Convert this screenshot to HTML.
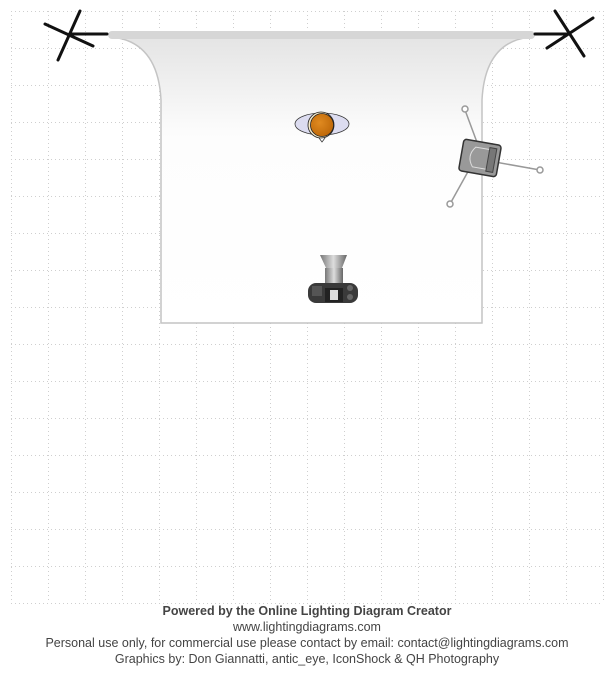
<!DOCTYPE html>
<html><head><style>
body{margin:0;width:614px;height:674px;background:#fff;overflow:hidden;font-family:"Liberation Sans",Arial,sans-serif}
.t{position:absolute;left:0;width:614px;text-align:center;font-size:12.5px;color:#444}
</style></head><body>
<svg width="614" height="674" style="position:absolute;left:0;top:0">
<defs>
<linearGradient id="bg" x1="0" y1="0" x2="0" y2="1"><stop offset="0" stop-color="#e4e4e4"/><stop offset="0.35" stop-color="#fdfdfd"/><stop offset="1" stop-color="#fff"/></linearGradient>
<linearGradient id="cam" x1="0" y1="0" x2="1" y2="0"><stop offset="0" stop-color="#777"/><stop offset="0.5" stop-color="#ddd"/><stop offset="1" stop-color="#666"/></linearGradient>
<radialGradient id="hd" cx="0.4" cy="0.4" r="0.6"><stop offset="0" stop-color="#e08a20"/><stop offset="1" stop-color="#c06a0a"/></radialGradient>
</defs>
<g id="grid" stroke="#cfcfcf" stroke-width="1" stroke-dasharray="1,3" fill="none">
<path d="M11.5 11V603M48.5 11V603M85.5 11V603M122.5 11V603M159.5 11V603M196.5 11V603M233.5 11V603M270.5 11V603M307.5 11V603M344.5 11V603M381.5 11V603M418.5 11V603M455.5 11V603M492.5 11V603M529.5 11V603M566.5 11V603M603.5 11V603"/>
<path d="M11 11.5H603M11 48.5H603M11 85.5H603M11 122.5H603M11 159.5H603M11 196.5H603M11 233.5H603M11 270.5H603M11 307.5H603M11 344.5H603M11 381.5H603M11 418.5H603M11 455.5H603M11 492.5H603M11 529.5H603M11 566.5H603M11 603.5H603"/>
</g>
<path d="M112 37 Q158 42 161 100 L161 323 L482 323 L482 100 Q485 42 530 37 Z" fill="url(#bg)" stroke="#c4c4c4" stroke-width="1.5"/>
<rect x="108" y="31" width="427" height="8" rx="4" fill="#d6d6d6"/>
<g stroke="#111" stroke-width="3" stroke-linecap="round">
<line x1="80" y1="11" x2="58" y2="60"/><line x1="45" y1="24" x2="93" y2="46"/><line x1="70" y1="34" x2="107" y2="34"/>
<line x1="555" y1="11" x2="584" y2="56"/><line x1="593" y1="18" x2="547" y2="48"/><line x1="535" y1="34" x2="570" y2="34"/>
</g>
<ellipse cx="322" cy="124" rx="27" ry="11" fill="#dcdcf0" stroke="#333" stroke-width="0.8"/>
<path d="M319 138 L322 142 L325 138" fill="#fff" stroke="#333" stroke-width="0.8"/>
<circle cx="321" cy="125" r="13" fill="#f4e8c8" stroke="#222" stroke-width="0.8"/>
<circle cx="322" cy="125" r="11.5" fill="url(#hd)" stroke="#222" stroke-width="0.8"/>
<g stroke="#999" stroke-width="1.5" fill="#fff">
<line x1="465" y1="110" x2="478" y2="145"/><line x1="495" y1="162" x2="540" y2="170"/><line x1="470" y1="168" x2="450" y2="204"/>
<circle cx="465" cy="109" r="3"/><circle cx="540" cy="170" r="3"/><circle cx="450" cy="204" r="3"/>
</g>
<g transform="rotate(10 480 158)">
<rect x="461" y="142" width="38" height="32" rx="3" fill="#999" stroke="#333" stroke-width="1.5"/>
<path d="M488 148 H474 Q466 158 474 168 H488" fill="none" stroke="#ddd" stroke-width="1"/>
<rect x="488" y="146" width="7" height="24" fill="#777" stroke="#444"/>
</g>
<path d="M320 255 H347 L342 268 H326 Z" fill="url(#cam)"/>
<rect x="325" y="268" width="18" height="16" fill="url(#cam)"/>
<rect x="308" y="283" width="50" height="20" rx="8" fill="#3a3a3a"/>
<rect x="312" y="286" width="10" height="10" fill="#555"/>
<rect x="325" y="288" width="18" height="14" fill="#222"/>
<rect x="330" y="290" width="8" height="10" fill="#ddd"/>
<circle cx="350" cy="288" r="3" fill="#666"/><circle cx="350" cy="297" r="3" fill="#666"/>
</svg>
<div class="t" style="top:604px;font-weight:bold">Powered by the Online Lighting Diagram Creator</div>
<div class="t" style="top:620px">www.lightingdiagrams.com</div>
<div class="t" style="top:636px">Personal use only, for commercial use please contact by email: contact@lightingdiagrams.com</div>
<div class="t" style="top:652px">Graphics by: Don Giannatti, antic_eye, IconShock &amp; QH Photography</div>
</body></html>
